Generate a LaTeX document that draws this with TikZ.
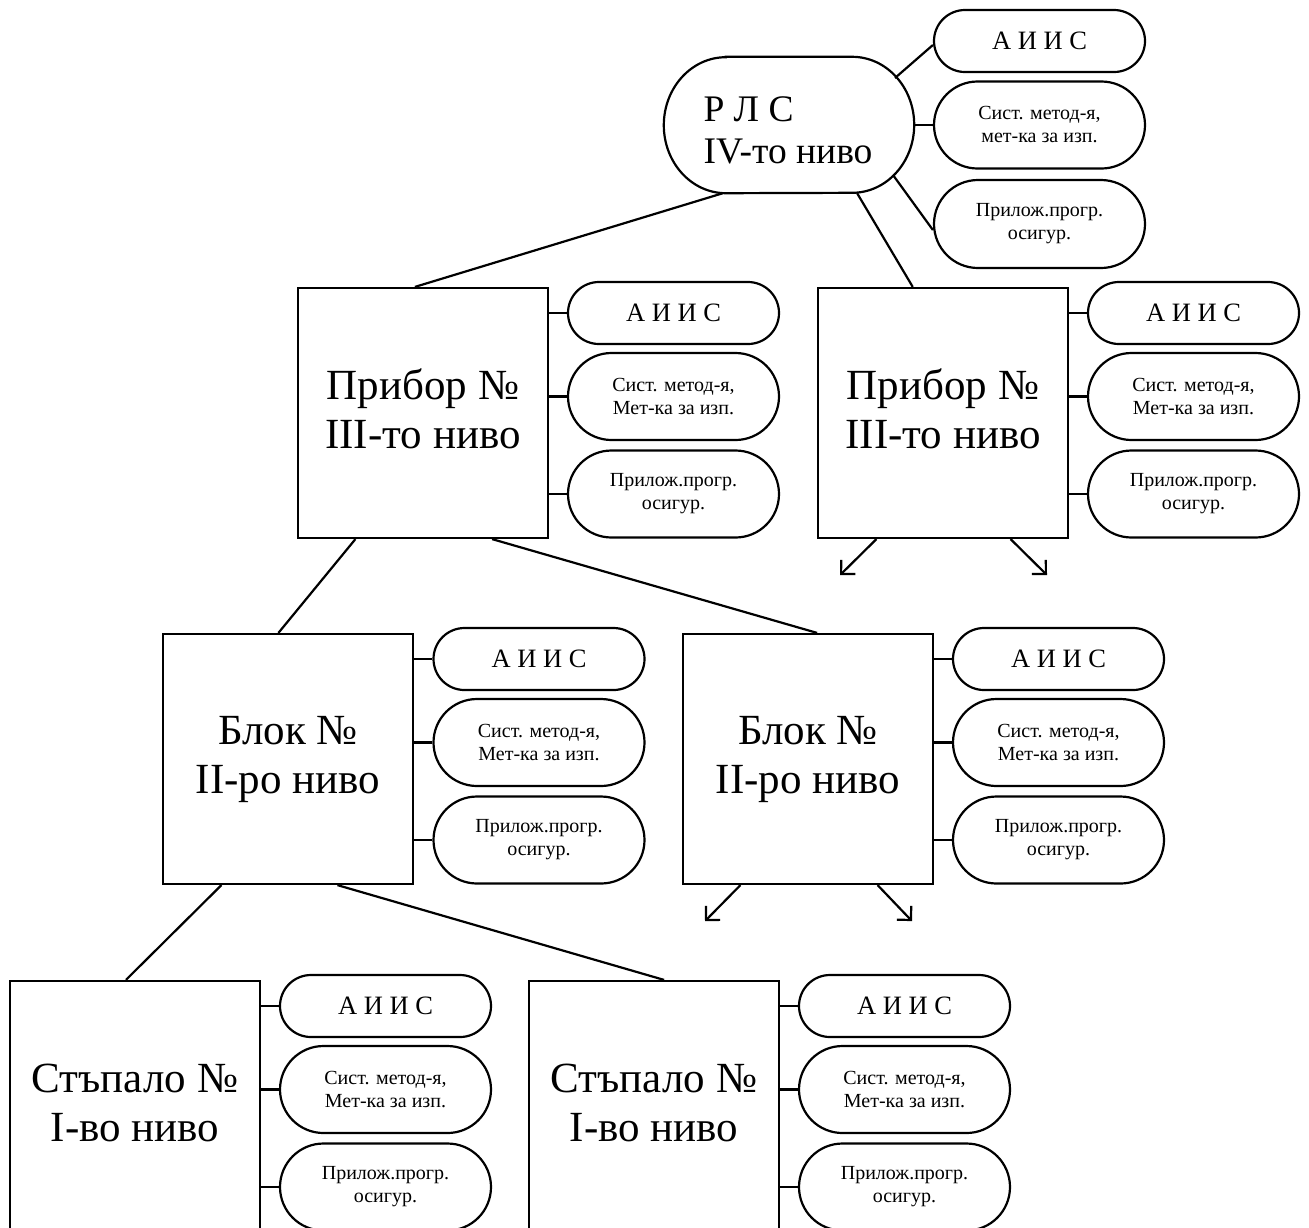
\documentclass[tikz,border=0pt]{standalone}
\usepackage{fontspec}
\setmainfont{Liberation Serif}
\usetikzlibrary{calc,arrows.meta}

\newcommand{\topstrut}{\rule{0pt}{30pt}}
\newcommand{\botstrut}{\rule[-9pt]{0pt}{9pt}}

\tikzset{
  lw/.style={line width=2.2pt},
  box/.style={draw, lw, minimum width=250pt, minimum height=250pt, inner sep=0pt,
    align=center, font=\fontsize{43}{49}\selectfont},
  pillA/.style={draw, lw, minimum width=211pt, minimum height=62pt, rounded corners=31pt,
    inner sep=0pt, font=\fontsize{26.5}{30}\selectfont},
  pillB/.style={draw, lw, minimum width=211pt, minimum height=87pt, rounded corners=43.5pt,
    inner sep=0pt, align=center, font=\fontsize{20}{23}\selectfont},
  link/.style={lw},
  arr/.style={lw, -{Straight Barb[length=10pt,width=20pt,line width=2.2pt]}},
}

\newcommand{\pillset}[4]{% name, x, y (box centre y), second line of middle pill
  \node[pillA] (#1a) at (#2,#3-100) {А И И С};
  \node[pillB] (#1b) at (#2,#3-16.5) {Сист. метод-я,\\#4};
  \node[pillB] (#1c) at (#2,#3+81) {Прилож.прогр.\\осигур.};
}

\begin{document}
\begin{tikzpicture}[x=1pt,y=-1pt]
\useasboundingbox (0,0) rectangle (1309,1227);
\clip (0,0) rectangle (1309,1227);

% ---- level IV ----
\node[minimum width=250pt, minimum height=136pt, inner sep=0pt] (rls) at (789,125) {};
\node[inner sep=0pt, align=left, font=\fontsize{37.5}{42}\selectfont] (rlstext)
  at ($(rls.center)+(-1,5)$) {Р Л С\\IV-то ниво};
\draw[link] ($(rls.north west)+(62,0)$) -- ($(rls.north east)+(-62,0)$)
  arc[start angle=90, end angle=-90, x radius=62pt, y radius=68pt]
  -- ($(rls.south west)+(62,0)$)
  arc[start angle=270, end angle=90, x radius=62pt, y radius=68pt] -- cycle;

\node[pillA] (ta) at (1039.5,41) {А И И С};
\node[pillB] (tb) at (1039.5,125) {Сист. метод-я,\\мет-ка за изп.};
\node[pillB, minimum height=88pt, rounded corners=44pt] (tc) at (1039.5,224) {Прилож.прогр.\\осигур.};

\draw[link] ($(rls.center)+(106,-47)$) -- ($(ta.west)+(0,4)$);
\draw[link] (rls.east) -- (tb.west);
\draw[link] ($(rls.center)+(104,50)$) -- ($(tc.west)+(0,6)$);

% ---- level III ----
\node[box] (p1) at (423,413) {\topstrut Прибор №\\III-то ниво\botstrut};
\node[box] (p2) at (943,413) {\topstrut Прибор №\\III-то ниво\botstrut};
\pillset{p1}{673.5}{413}{Мет-ка за изп.}
\pillset{p2}{1193.5}{413}{Мет-ка за изп.}

% ---- level II ----
\node[box] (b1) at (288,759) {\topstrut Блок №\\II-ро ниво\botstrut};
\node[box] (b2) at (808,759) {\topstrut Блок №\\II-ро ниво\botstrut};
\pillset{b1}{539}{759}{Мет-ка за изп.}
\pillset{b2}{1058.5}{759}{Мет-ка за изп.}

% ---- level I ----
\node[box] (s1) at (135,1106) {\topstrut Стъпало №\\I-во ниво\botstrut};
\node[box] (s2) at (654,1106) {\topstrut Стъпало №\\I-во ниво\botstrut};
\pillset{s1}{385.5}{1106}{Мет-ка за изп.}
\pillset{s2}{904.5}{1106}{Мет-ка за изп.}

% box-to-pill connectors
\foreach \n in {p1,p2,b1,b2,s1,s2}{
  \foreach \s in {a,b,c}{
    \draw[link] (\n.east |- \n\s.west) -- (\n\s.west);
  }
}

% tree connectors
\draw[link] ($(rls.south west)!0.236!(rls.south east)$) -- ($(p1.north west)!0.468!(p1.north east)$);
\draw[link] ($(rls.south west)!0.772!(rls.south east)$) -- ($(p2.north west)!0.38!(p2.north east)$);
\draw[link] ($(p1.south west)!0.232!(p1.south east)$) -- ($(b1.north west)!0.462!(b1.north east)$);
\draw[link] ($(p1.south west)!0.774!(p1.south east)$) -- ($(b2.north west)!0.536!(b2.north east)$);
\draw[link] ($(b1.south west)!0.236!(b1.south east)$) -- ($(s1.north west)!0.464!(s1.north east)$);
\draw[link] ($(b1.south west)!0.696!(b1.south east)$) -- ($(s2.north west)!0.54!(s2.north east)$);

% open-ended arrows
\coordinate (p2L) at ($(p2.south)+(-103,36)$);
\coordinate (p2R) at ($(p2.south)+(104,36)$);
\coordinate (b2L) at ($(b2.south)+(-103,36)$);
\coordinate (b2R) at ($(b2.south)+(104,36)$);
\draw[arr] ($(p2.south west)!0.236!(p2.south east)$) -- (p2L);
\draw[arr] ($(p2.south west)!0.768!(p2.south east)$) -- (p2R);
\draw[arr] ($(b2.south west)!0.232!(b2.south east)$) -- (b2L);
\draw[arr] ($(b2.south west)!0.776!(b2.south east)$) -- (b2R);
\end{tikzpicture}
\end{document}
